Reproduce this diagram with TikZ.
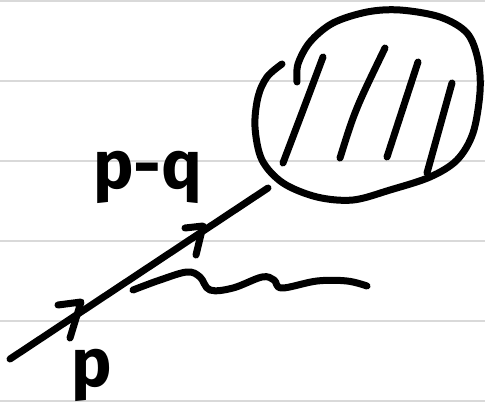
\documentclass[tikz,border=0pt]{standalone}
\usepackage{fontspec}
\setmainfont{Fira Sans}
\begin{document}
\begin{tikzpicture}[x=1pt,y=-1pt,
  ink/.style={line width=7pt,line cap=round,line join=round,black},
  rule/.style={line width=2pt,black!15},
  lbl/.style={inner sep=0pt,font=\bfseries\fontsize{68}{68}\selectfont}]
\useasboundingbox (0,0) rectangle (485,413);
\fill[white] (0,0) rectangle (485,413);
\foreach \y in {1,81,161,241,321,401} \draw[rule] (0,\y) -- (485,\y);
% named points
\coordinate (in) at (10,359);
\coordinate (blobin) at (268,188);
% main fermion line
\draw[ink] (in) -- (blobin);
% arrow chevrons
\draw[ink] (58,305) -- (81,302) -- (70,338);
\draw[ink] (185,228) -- (203,226) -- (196,255);
% photon (wavy)
\draw[ink] plot[smooth,tension=0.6] coordinates {(133,290) (160,280) (187,272) (200,277) (210,290) (233,288) (262,277) (274,280) (282,288) (317,281) (347,281) (367,286)};
% blob outline
\draw[ink] plot[smooth,tension=0.55] coordinates {(297,82) (298,64) (310,42) (333,23) (367,12) (400,10) (440,17) (467,33) (478,60) (480,92) (473,133) (457,160) (430,177) (390,190) (353,200) (317,197) (283,183) (262,160) (255,127) (258,97) (267,77) (282,64)};
% hatching
\draw[ink] (323,57) .. controls (305,105) .. (283,163);
\draw[ink] (385,48) .. controls (355,110) .. (340,158);
\draw[ink] (418,62) -- (387,157);
\draw[ink] (452,83) -- (427,173);
% labels
\node[lbl,anchor=base] (p) at (92,386) {p};
\node[lbl,anchor=base west] (pq) at (93,188) {p-q};
\end{tikzpicture}
\end{document}
